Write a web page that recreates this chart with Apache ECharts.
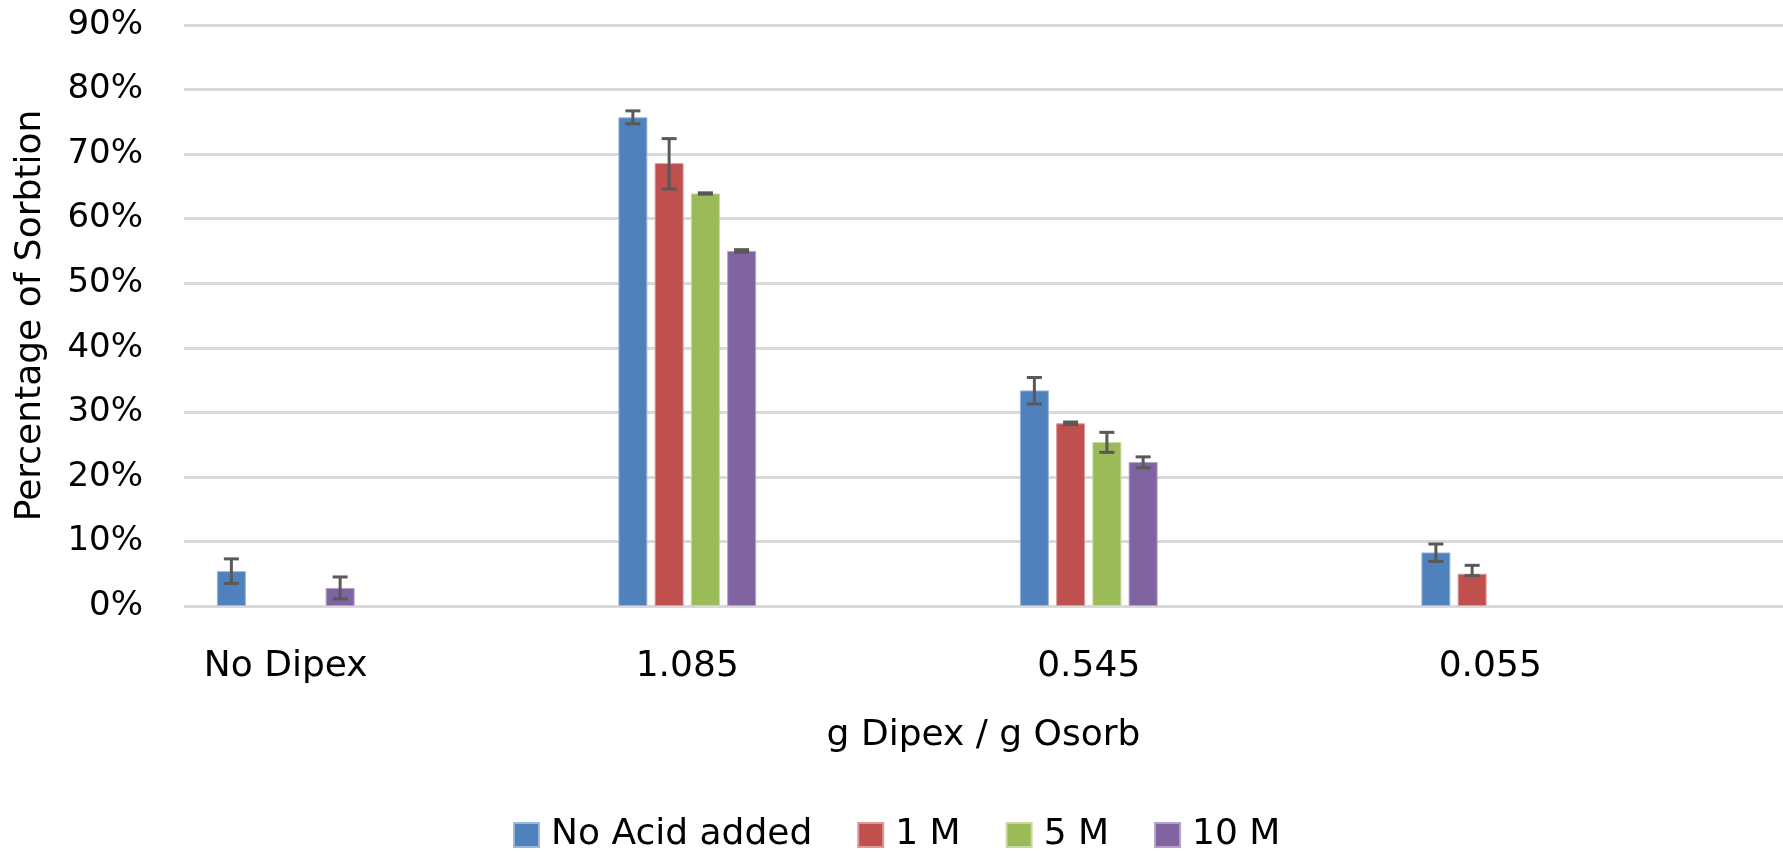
<!DOCTYPE html>
<html>
<head>
<meta charset="utf-8">
<script src="https://cdn.jsdelivr.net/npm/echarts@6/dist/echarts.min.js"></script>
<style>
html,body{margin:0;padding:0;background:#fff;}
#chart{width:1783px;height:852px;}
</style>
</head>
<body>
<div id="chart"></div>
<script>
// ---- data (percent) ----
const categories = ['No Dipex', '1.085', '0.545', '0.055'];
const seriesNames = ['No Acid added', '1 M', '5 M', '10 M'];
const noAcid = [5.4, 75.7, 33.4, 8.3];
const oneM = [null, 68.6, 28.3, 5.0];
const fiveM = [null, 63.9, 25.4, null];
const tenM = [2.8, 55.0, 22.3, null];
// error bar extents (percent points above / below the bar value)
const noAcidErrUp = [1.9, 1.0, 2.0, 1.3];
const noAcidErrDown = [1.9, 1.0, 2.1, 1.4];
const oneMErrUp = [null, 3.8, 0.2, 1.3];
const oneMErrDown = [null, 4.0, 0.2, 0.3];
const fiveMErrUp = [null, 0.1, 1.5, null];
const fiveMErrDown = [null, 0.1, 1.6, null];
const tenMErrUp = [1.7, 0.2, 0.8, null];
const tenMErrDown = [1.7, 0.2, 0.9, null];
const yTicks = [0, 10, 20, 30, 40, 50, 60, 70, 80, 90];

const colors = ['#4F81BD', '#C0504D', '#9BBB59', '#8064A2'];
const borders = ['#9db7d9', '#dc9b99', '#c5d9a0', '#b3a2c8'];
const values = [noAcid, oneM, fiveM, tenM];
const errUp = [noAcidErrUp, oneMErrUp, fiveMErrUp, tenMErrUp];
const errDown = [noAcidErrDown, oneMErrDown, fiveMErrDown, tenMErrDown];

const BAR_W = 29;
const BAR_GAP = 0.25; // fraction of bar width
const FONT = 'DejaVu Sans';

const chart = echarts.init(document.getElementById('chart'), null, {renderer: 'canvas'});

const series = [];
values.forEach((vals, i) => {
  series.push({
    name: seriesNames[i],
    type: 'bar',
    xAxisIndex: 1,
    yAxisIndex: 1,
    barWidth: BAR_W,
    barGap: (BAR_GAP * 100) + '%',
    data: vals,
    itemStyle: {color: colors[i], borderColor: borders[i], borderWidth: 1},
    z: 2
  });
});

const errData = [];
values.forEach((vals, i) => {
  vals.forEach((v, j) => {
    if (v === null) return;
    errData.push([j, v - errDown[i][j], v + errUp[i][j], i]);
  });
});

const nSeries = values.length;
const step = BAR_W * (1 + BAR_GAP);
series.push({
  name: 'errors',
  type: 'custom',
  xAxisIndex: 1,
  yAxisIndex: 1,
  z: 5,
  silent: true,
  data: errData,
  renderItem: function (params, api) {
    const idx = api.value(0);
    const lo = api.coord([idx, api.value(1)]);
    const hi = api.coord([idx, api.value(2)]);
    const s = api.value(3);
    const x = lo[0] + (s - (nSeries - 1) / 2) * step;
    const half = 7.5;
    const style = {stroke: '#595959', lineWidth: 3, fill: null};
    return {
      type: 'group',
      children: [
        {type: 'line', shape: {x1: x, y1: lo[1], x2: x, y2: hi[1]}, style: style},
        {type: 'line', shape: {x1: x - half, y1: lo[1], x2: x + half, y2: lo[1]}, style: style},
        {type: 'line', shape: {x1: x - half, y1: hi[1], x2: x + half, y2: hi[1]}, style: style}
      ]
    };
  }
});

const option = {
  animation: false,
  backgroundColor: '#ffffff',
  grid: [
    {left: 184, right: 0, top: 25, height: 581},
    {left: 85, width: 1606, top: 25, height: 581}
  ],
  legend: {
    data: seriesNames,
    left: 513,
    top: 817,
    padding: 0,
    icon: 'rect',
    itemWidth: 25,
    itemHeight: 24,
    itemGap: 45,
    textStyle: {fontFamily: FONT, fontSize: 36, color: '#000', lineHeight: 36, padding: [0, 0, 0, 7]}
  },
  xAxis: [
    {
      gridIndex: 0, type: 'value', min: 0, max: 1,
      axisLine: {show: false}, axisTick: {show: false}, axisLabel: {show: false}, splitLine: {show: false},
      name: 'g Dipex / g Osorb', nameLocation: 'middle', nameGap: 112,
      nameTextStyle: {fontFamily: FONT, fontSize: 36, color: '#000'}
    },
    {
      gridIndex: 1, type: 'category', data: categories,
      axisLine: {show: false}, axisTick: {show: false}, splitLine: {show: false},
      axisLabel: {margin: 43, fontFamily: FONT, fontSize: 36, color: '#000', interval: 0}
    }
  ],
  yAxis: [
    {
      gridIndex: 0, type: 'value', min: yTicks[0], max: yTicks[yTicks.length - 1], interval: yTicks[1] - yTicks[0],
      axisLine: {show: false}, axisTick: {show: false},
      axisLabel: {margin: 41, fontFamily: FONT, fontSize: 34, color: '#000', formatter: '{value}%'},
      splitLine: {lineStyle: {color: '#d9d9d9', width: 3}},
      name: 'Percentage of Sorbtion', nameLocation: 'middle', nameRotate: 90, nameGap: 135,
      nameTextStyle: {fontFamily: FONT, fontSize: 36, color: '#000'}
    },
    {
      gridIndex: 1, type: 'value', min: yTicks[0], max: yTicks[yTicks.length - 1], interval: yTicks[1] - yTicks[0],
      show: false, splitLine: {show: false}
    }
  ],
  series: series
};
chart.setOption(option);
</script>
</body>
</html>
